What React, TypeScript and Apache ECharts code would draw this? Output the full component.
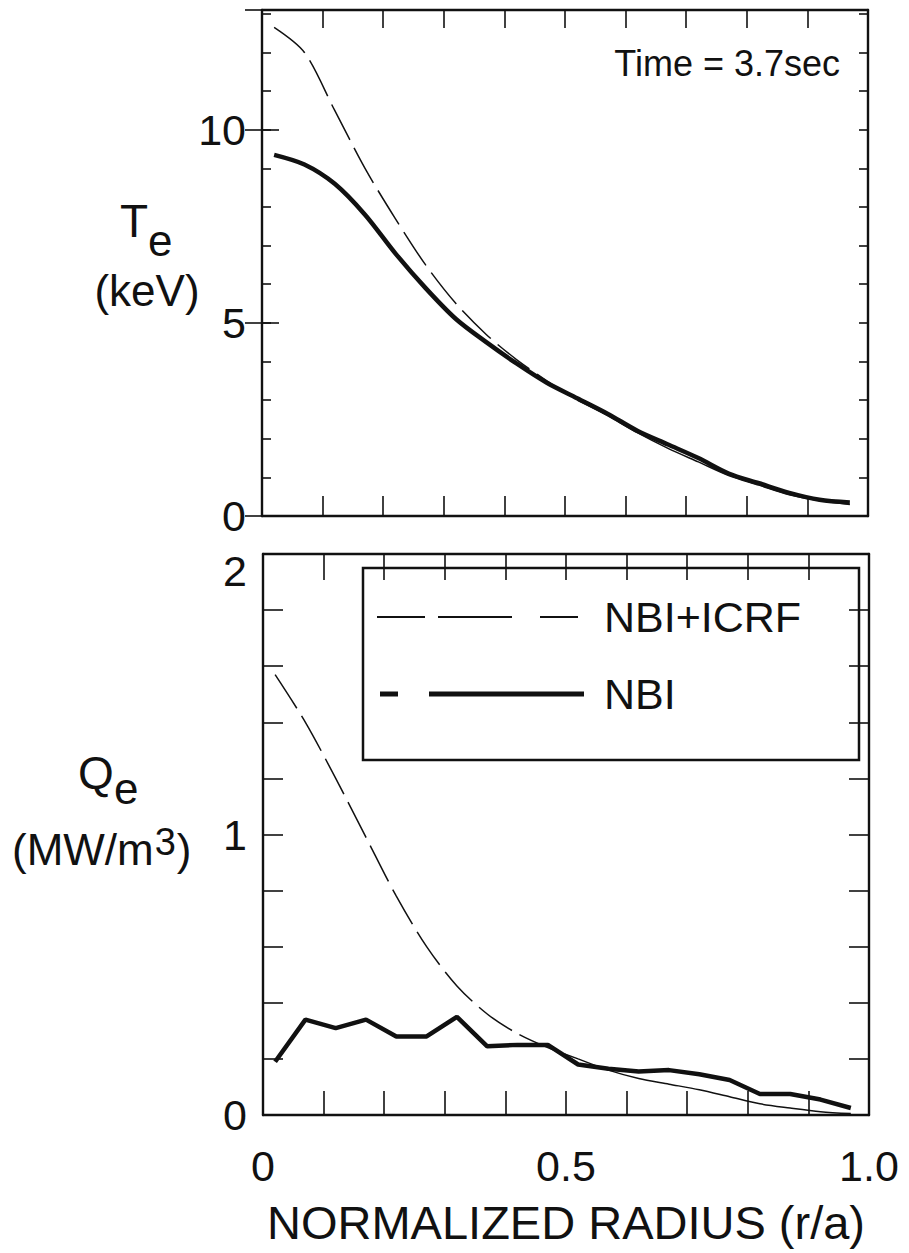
import React, { useEffect, useRef } from "react";
import * as echarts from "echarts";

const RADIUS = [0.02, 0.07, 0.12, 0.17, 0.22, 0.27, 0.32, 0.37, 0.42, 0.47, 0.52, 0.57, 0.62, 0.67, 0.72, 0.77, 0.82, 0.87, 0.92, 0.97];
const TE_NBI = [9.35, 9.1, 8.6, 7.8, 6.8, 5.9, 5.1, 4.5, 3.95, 3.45, 3.05, 2.65, 2.2, 1.85, 1.5, 1.1, 0.85, 0.6, 0.42, 0.35];
const TE_ICRF = [12.65, 12.0, 10.5, 9.0, 7.7, 6.5, 5.5, 4.7, 4.05, 3.5, 3.0, 2.6, 2.15, 1.75, 1.4, 1.05, 0.8, 0.55, 0.4, 0.3];
const QE_NBI = [0.19, 0.34, 0.31, 0.34, 0.28, 0.28, 0.35, 0.245, 0.25, 0.25, 0.18, 0.165, 0.155, 0.16, 0.145, 0.125, 0.075, 0.075, 0.055, 0.025];
const QE_ICRF = [1.57, 1.4, 1.2, 0.99, 0.78, 0.6, 0.46, 0.36, 0.29, 0.24, 0.2, 0.16, 0.13, 0.11, 0.09, 0.065, 0.04, 0.025, 0.012, 0.005];
const DASH_END = 0.52; // NBI+ICRF drawn dashed up to here, thin solid after

const X_LABELS = [0, 0.5, 1.0];
const TE_LABELS = [0, 5, 10];
const QE_LABELS = [0, 1, 2];
const LEGEND = ["NBI+ICRF", "NBI"];

const FONT = "'Liberation Sans', Arial, Helvetica, sans-serif";

function pairs(xs: number[], ys: number[]) {
  return xs.map((x, i) => [x, ys[i]]);
}
function dashedPart(xs: number[], ys: number[]) {
  return pairs(xs, ys).filter((p) => p[0] <= DASH_END + 1e-9);
}
function solidPart(xs: number[], ys: number[]) {
  return pairs(xs, ys).filter((p) => p[0] >= DASH_END - 1e-9);
}
function near(v: number, list: number[]) {
  return list.some((l) => Math.abs(l - v) < 1e-6);
}
function measure(text: string, size: number) {
  const c = document.createElement("canvas").getContext("2d");
  if (!c) return text.length * size * 0.6;
  c.font = `${size}px ${FONT}`;
  return c.measureText(text).width;
}

export default function App() {
  const ref = useRef<HTMLDivElement>(null);
  useEffect(() => {
    if (!ref.current) return;
    const chart = echarts.init(ref.current, undefined, { renderer: "svg" });
    const black = "#111";
    const axisLine = { show: true, onZero: false, lineStyle: { color: black, width: 2.4 } };
    const mkX = (grid: number, pos: string, len: number, labels: boolean) => ({
      type: "value",
      gridIndex: grid,
      position: pos,
      min: 0,
      max: 1,
      interval: 0.1,
      axisLine,
      axisTick: { show: true, inside: true, length: len, lineStyle: { color: black, width: 1.6 } },
      splitLine: { show: false },
      axisLabel: labels
        ? {
            show: true,
            margin: 29,
            fontSize: 43,
            color: black,
            fontFamily: FONT,
            formatter: (v: number) => (near(v, X_LABELS) ? (Math.abs(v - 1) < 1e-6 ? "1.0" : String(Math.round(v * 10) / 10)) : ""),
          }
        : { show: false },
      ...(labels
        ? {
            name: "NORMALIZED RADIUS (r/a)",
            nameLocation: "middle",
            nameGap: 84,
            nameTextStyle: { fontSize: 47, color: black, fontFamily: FONT },
          }
        : {}),
    });
    const mkY = (grid: number, pos: string, max: number, interval: number, len: number, labelList: number[] | null, lineShow = true) => ({
      type: "value",
      gridIndex: grid,
      position: pos,
      min: 0,
      max,
      interval,
      axisLine: lineShow ? axisLine : { show: false },
      axisTick: { show: true, inside: true, length: len, lineStyle: { color: black, width: 1.6 } },
      splitLine: { show: false },
      axisLabel: labelList
        ? {
            show: true,
            margin: 16,
            fontSize: 43,
            color: black,
            fontFamily: FONT,
            formatter: (v: number) => {
              if (!near(v, labelList)) return "";
              if (grid === 1 && Math.abs(v - 2) < 1e-6) return "{t|2}";
              return String(Math.round(v));
            },
            rich: { t: { fontSize: 43, color: black, fontFamily: FONT, padding: [34, 0, 0, 0] } },
          }
        : { show: false },
    });

    const thick = { color: black, width: 4.5 };
    const thinDash = { color: black, width: 1.5, type: [40, 9] };
    const thinSolid = { color: black, width: 1.5 };

    const unitX = 12;
    const wMW = measure("(MW/m", 44);
    const w3 = measure("3", 38);
    const txt = (text: string, x: number, y: number, size: number, extra: any = {}) => ({
      type: "text",
      x,
      y,
      style: { text, fontSize: size, fill: black, fontFamily: FONT, verticalAlign: "middle", ...extra },
    });

    const option: any = {
      animation: false,
      backgroundColor: "#ffffff",
      textStyle: { fontFamily: FONT },
      grid: [
        { left: 262, top: 10, width: 606, height: 506, containLabel: false },
        { left: 263, top: 554, width: 606, height: 561, containLabel: false },
      ],
      xAxis: [mkX(0, "bottom", 20, false), mkX(0, "top", 18, false), mkX(1, "bottom", 24, true), mkX(1, "top", 26, false)],
      yAxis: [
        mkY(0, "left", 13.1, 1, 9, null),
        mkY(0, "left", 13.1, 5, 17, TE_LABELS, false),
        mkY(0, "right", 13.1, 1, 9, null),
        mkY(0, "right", 13.1, 5, 17, null, false),
        mkY(1, "left", 2, 0.2, 20, QE_LABELS),
        mkY(1, "right", 2, 0.2, 20, null),
      ],
      series: [
        { name: "NBI", type: "line", xAxisIndex: 0, yAxisIndex: 0, data: pairs(RADIUS, TE_NBI), smooth: 0.3, showSymbol: false, lineStyle: thick, z: 3 },
        { name: "NBI+ICRF", type: "line", xAxisIndex: 0, yAxisIndex: 0, data: dashedPart(RADIUS, TE_ICRF), smooth: 0.3, showSymbol: false, lineStyle: thinDash, z: 4 },
        { name: "NBI+ICRF ", type: "line", xAxisIndex: 0, yAxisIndex: 0, data: solidPart(RADIUS, TE_ICRF), smooth: 0.3, showSymbol: false, lineStyle: thinSolid, z: 4 },
        { name: "NBI", type: "line", xAxisIndex: 2, yAxisIndex: 4, data: pairs(RADIUS, QE_NBI), smooth: false, showSymbol: false, lineStyle: thick, z: 3 },
        { name: "NBI+ICRF", type: "line", xAxisIndex: 2, yAxisIndex: 4, data: dashedPart(RADIUS, QE_ICRF), smooth: 0.3, showSymbol: false, lineStyle: thinDash, z: 4 },
        { name: "NBI+ICRF ", type: "line", xAxisIndex: 2, yAxisIndex: 4, data: solidPart(RADIUS, QE_ICRF), smooth: 0.3, showSymbol: false, lineStyle: thinSolid, z: 4 },
      ],
      graphic: [
        txt("Time = 3.7sec", 840, 63, 36, { align: "right" }),
        txt("T", 120, 221, 46),
        txt("e", 148, 240, 44),
        txt("(keV)", 147, 290, 44, { align: "center" }),
        txt("Q", 78, 773, 46),
        txt("e", 114, 788, 44),
        txt("(MW/m", unitX, 849, 44),
        txt("3", unitX + wMW + 1, 842, 38),
        txt(")", unitX + wMW + w3 + 2, 849, 44),
        {
          type: "group",
          z: 100,
          children: [
            { type: "rect", shape: { x: 363, y: 568, width: 496, height: 192 }, style: { fill: "#fff", stroke: black, lineWidth: 2.5 } },
            { type: "line", shape: { x1: 377, y1: 617, x2: 425, y2: 617 }, style: { stroke: black, lineWidth: 2 } },
            { type: "line", shape: { x1: 438, y1: 617, x2: 512, y2: 617 }, style: { stroke: black, lineWidth: 2 } },
            { type: "line", shape: { x1: 540, y1: 617, x2: 578, y2: 617 }, style: { stroke: black, lineWidth: 2 } },
            txt(LEGEND[0], 604, 617, 43),
            { type: "line", shape: { x1: 380, y1: 694, x2: 398, y2: 694 }, style: { stroke: black, lineWidth: 5 } },
            { type: "line", shape: { x1: 429, y1: 694, x2: 584, y2: 694 }, style: { stroke: black, lineWidth: 5 } },
            txt(LEGEND[1], 604, 694, 43),
          ],
        },
      ],
    };
    chart.setOption(option);
    return () => chart.dispose();
  }, []);
  return <div ref={ref} style={{ position: "absolute", left: 0, top: 0, width: 909, height: 1253, background: "#fff" }} />;
}
